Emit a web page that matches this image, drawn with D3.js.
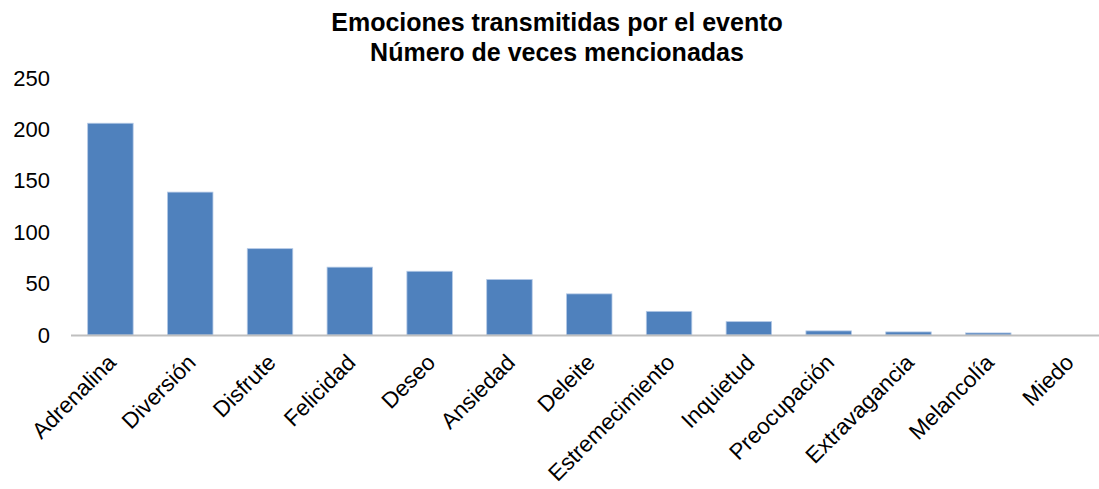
<!DOCTYPE html>
<html>
<head>
<meta charset="utf-8">
<script src="https://cdn.jsdelivr.net/npm/d3@7"></script>
<style>
  body { margin: 0; background: #fff; }
  svg { display: block; font-family: "Liberation Sans", Arial, sans-serif; }
</style>
</head>
<body>
<svg id="chart" width="1099" height="489"></svg>
<script>
// data
const emociones = ["Adrenalina", "Diversión", "Disfrute", "Felicidad", "Deseo", "Ansiedad", "Deleite",
  "Estremecimiento", "Inquietud", "Preocupación", "Extravagancia", "Melancolía", "Miedo"];
const menciones = [206, 139, 84, 66, 62, 54, 40, 23, 13, 4, 3, 2, 0];
const yTicks = [0, 50, 100, 150, 200, 250];
const titleLines = ["Emociones transmitidas por el evento", "Número de veces mencionadas"];

const data = emociones.map((e, i) => ({ name: e, value: menciones[i] }));

const svg = d3.select("#chart");

// plot area
const x0 = 70.5, x1 = 1108, yBase = 335, yTop = 78;

const x = d3.scaleBand()
  .domain(emociones)
  .range([x0, x1])
  .paddingInner(0.43)
  .paddingOuter(0.215);

const y = d3.scaleLinear()
  .domain([0, 250])
  .range([yBase, yTop]);

// title
svg.append("text")
  .attr("x", 557)
  .attr("y", 31)
  .attr("text-anchor", "middle")
  .attr("font-size", "25px")
  .attr("font-weight", "bold")
  .selectAll("tspan")
  .data(titleLines)
  .join("tspan")
    .attr("x", 557)
    .attr("dy", (d, i) => i === 0 ? 0 : 30)
    .text(d => d);

// y axis (labels only)
const yAxis = svg.append("g")
  .attr("transform", "translate(50,0)")
  .call(d3.axisLeft(y).tickValues(yTicks).tickSize(0).tickPadding(0));
yAxis.select(".domain").remove();
yAxis.selectAll("text")
  .attr("font-size", "22px")
  .attr("font-family", "Liberation Sans, Arial, sans-serif")
  .attr("fill", "#000");

// bars
svg.append("g")
  .selectAll("rect")
  .data(data)
  .join("rect")
    .attr("x", d => x(d.name))
    .attr("y", d => y(d.value))
    .attr("width", x.bandwidth())
    .attr("height", d => yBase - y(d.value))
    .attr("fill", "#4f81bd")
    .attr("stroke", "#b4c9e6")
    .attr("stroke-width", 0.8);

// x axis
const xAxis = svg.append("g")
  .attr("transform", `translate(0,${yBase})`)
  .call(d3.axisBottom(x).tickSize(0).tickPadding(0));
xAxis.select(".domain")
  .attr("stroke", "#bfbfbf")
  .attr("stroke-width", 2);
xAxis.selectAll("text")
  .attr("font-size", "22.5px")
  .attr("font-family", "Liberation Sans, Arial, sans-serif")
  .attr("fill", "#000")
  .attr("text-anchor", "end")
  .attr("dy", 0)
  .attr("transform", "translate(7,29) rotate(-45)");
</script>
</body>
</html>
